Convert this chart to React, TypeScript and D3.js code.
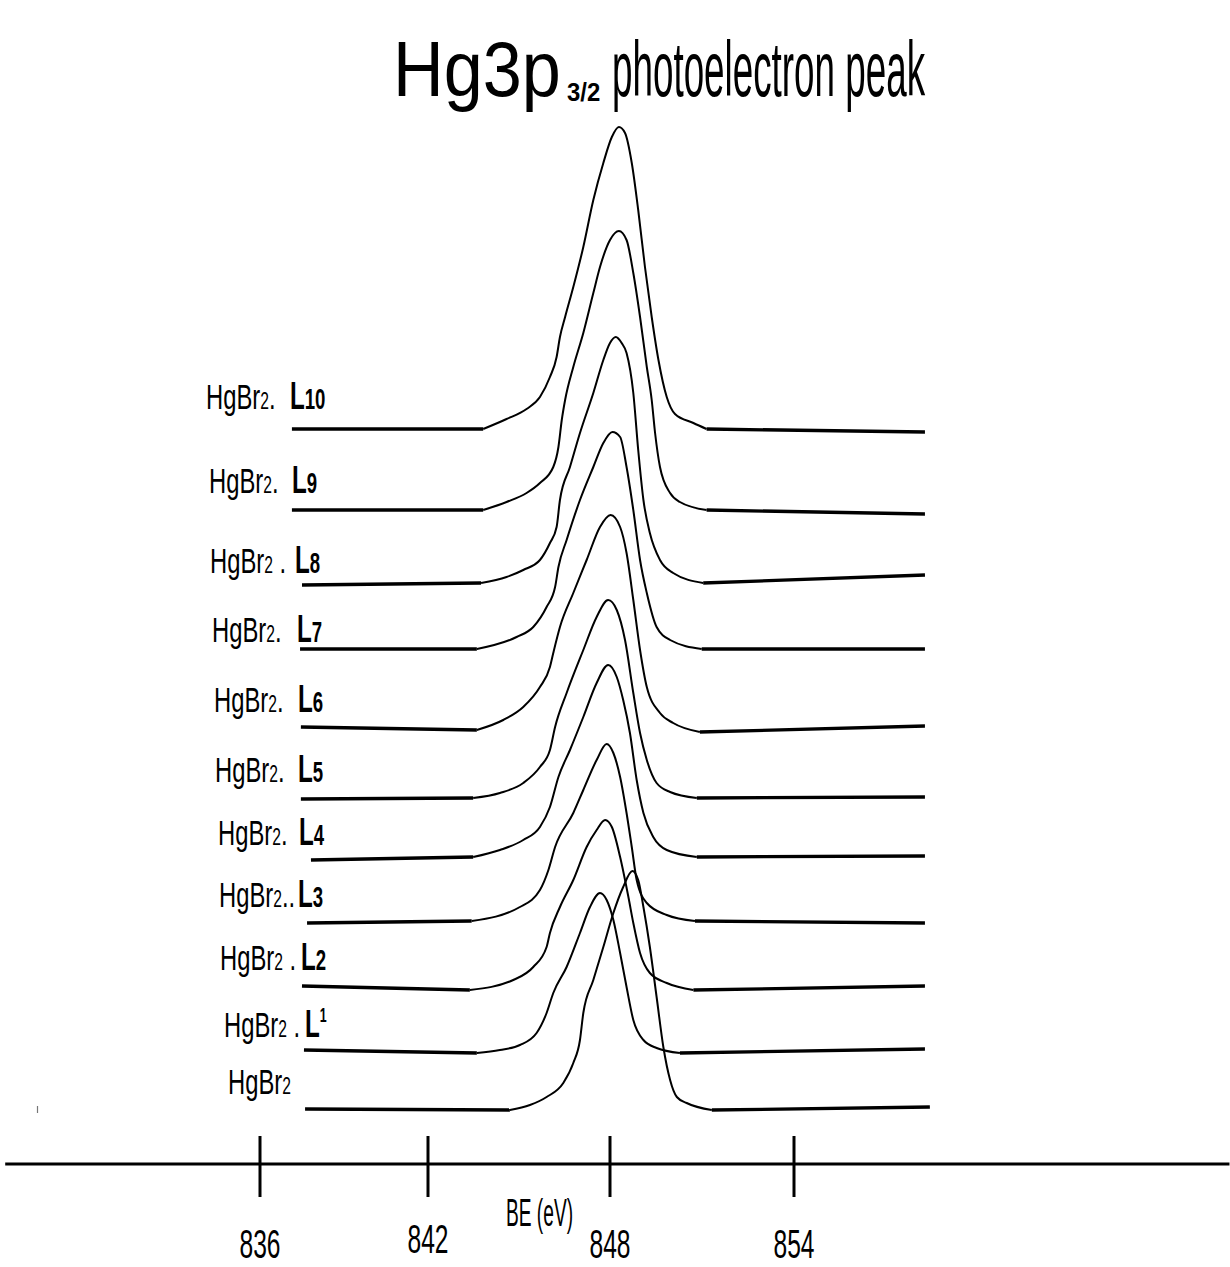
import React from "react";
import * as d3 from "d3";

// Binding energy axis (eV)
const BE_TICKS = [836, 842, 848, 854];
const AXIS_EXTENT = [826.9, 868.2];

// Stacked spectra: [BE (eV), intensity (a.u., offset stack)]
// first two points = left baseline, last two points = right baseline
const HGBR2 = [[837.61,5.5],[844.70,5.4],[845.36,5.9],[845.91,6.7],[846.46,8.1],[846.79,10.1],[847.01,12.4],[847.12,15.1],[847.45,18.4],[847.78,21.7],[848.11,25.1],[848.43,27.7],[848.73,29.3],[848.92,28.4],[849.09,25.7],[849.30,21.7],[849.52,16.7],[849.74,11.7],[849.96,8.4],[850.18,6.7],[850.50,6.1],[851.32,5.4],[858.43,5.7]];
const L1 = [[837.57,11.4],[843.61,11.1],[844.37,11.4],[845.03,11.9],[845.58,13.1],[845.91,15.1],[846.13,17.1],[846.57,19.7],[847.01,23.1],[847.34,25.7],[847.67,27.1],[847.89,26.4],[848.11,24.4],[848.33,21.1],[848.54,17.7],[848.76,14.4],[849.09,12.4],[849.52,11.6],[850.28,11.1],[858.27,11.5]];
const L2 = [[837.50,17.8],[843.38,17.4],[844.81,18.4],[845.47,19.7],[845.91,21.7],[846.02,23.1],[846.35,25.7],[846.79,28.4],[847.23,31.7],[847.56,33.4],[847.84,34.4],[848.06,33.7],[848.33,30.7],[848.60,26.7],[848.76,24.1],[848.98,21.1],[849.30,19.1],[849.85,18.1],[850.72,17.4],[858.27,17.8]];
const L3 = [[837.68,24.1],[843.44,24.3],[845.03,25.7],[845.69,27.4],[845.97,29.4],[846.19,31.7],[846.79,35.1],[847.12,37.4],[847.56,40.4],[847.89,42.0],[848.11,41.1],[848.33,38.7],[848.54,35.1],[848.71,31.7],[848.87,28.4],[849.20,26.1],[849.85,24.9],[850.77,24.3],[858.27,24.1]];
const L4 = [[837.82,30.4],[843.49,30.7],[844.37,31.4],[845.14,32.4],[845.69,33.7],[846.02,35.7],[846.30,38.7],[846.68,41.4],[847.12,44.7],[847.56,48.1],[847.94,49.9],[848.22,48.7],[848.43,46.4],[848.65,43.1],[848.87,38.4],[849.09,35.1],[849.41,32.7],[849.85,31.4],[850.83,30.7],[858.27,30.8]];
const L5 = [[837.46,36.5],[843.49,36.6],[844.37,37.1],[845.14,38.1],[845.69,39.7],[846.02,41.4],[846.19,43.7],[846.57,47.1],[847.12,51.4],[847.56,54.7],[847.94,56.4],[848.22,55.4],[848.49,52.4],[848.76,47.1],[848.98,43.1],[849.20,40.4],[849.52,38.1],[849.96,37.2],[850.83,36.6],[858.27,36.7]];
const L6 = [[837.46,43.7],[843.61,43.4],[844.48,44.4],[845.14,45.7],[845.69,47.7],[846.02,49.7],[846.13,51.1],[846.35,53.7],[846.79,57.1],[847.23,60.4],[847.67,63.7],[848.02,64.9],[848.33,63.7],[848.54,61.1],[848.76,56.4],[848.98,51.4],[849.20,47.7],[849.63,45.1],[850.06,44.1],[850.93,43.2],[858.27,43.8]];
const L7 = [[837.43,51.5],[843.61,51.5],[844.92,52.7],[845.47,53.7],[845.91,55.7],[846.19,57.7],[846.30,59.7],[846.57,62.4],[847.01,66.4],[847.45,69.7],[847.78,72.1],[848.08,73.2],[848.33,72.7],[848.54,69.7],[848.76,65.4],[848.98,60.4],[849.20,57.1],[849.52,53.7],[849.96,52.4],[850.99,51.5],[858.27,51.5]];
const L8 = [[837.50,57.9],[843.75,58.1],[844.59,58.7],[845.14,59.4],[845.69,60.4],[846.02,62.1],[846.24,63.7],[846.35,66.4],[846.68,69.7],[847.01,73.1],[847.45,77.1],[847.78,80.4],[848.00,82.1],[848.19,82.7],[848.38,82.1],[848.54,81.1],[848.76,77.1],[848.92,71.4],[849.09,66.4],[849.30,63.1],[849.63,60.4],[850.06,59.1],[851.04,58.1],[858.27,58.9]];
const L9 = [[837.14,65.4],[843.82,65.4],[844.59,66.2],[845.25,67.1],[845.69,68.1],[846.13,69.7],[846.30,71.7],[846.41,74.4],[846.52,76.4],[846.79,79.7],[847.12,83.1],[847.45,87.1],[847.67,89.7],[848.00,92.4],[848.29,93.3],[848.54,92.4],[848.76,89.1],[848.98,84.7],[849.20,79.7],[849.36,76.4],[849.47,73.1],[849.63,69.7],[849.96,67.1],[850.28,66.2],[851.15,65.4],[858.27,65.0]];
const L10 = [[837.14,73.5],[843.82,73.5],[844.59,74.5],[845.25,75.5],[845.69,76.7],[846.02,78.7],[846.24,80.7],[846.35,82.7],[846.52,84.7],[846.79,87.7],[847.12,91.7],[847.45,96.4],[847.78,100.1],[848.06,102.7],[848.29,103.7],[848.49,103.1],[848.71,100.1],[848.92,95.4],[849.14,89.7],[849.36,84.7],[849.58,80.4],[849.85,76.7],[850.12,75.0],[850.72,74.1],[851.15,73.5],[858.27,73.2]];

const SPECTRA = [HGBR2, L1, L2, L3, L4, L5, L6, L7, L8, L9, L10];

// label texts: separator after "HgBr2" and the ligand number
const LABEL_SEP = ["", " .", " .", "..", ". ", ". ", ". ", ". ", " .", ". ", ". "];
const LABEL_NUM = ["", "1", "2", "3", "4", "5", "6", "7", "8", "9", "10"];

// label anchors (layout, px)
const LABEL_X = [228, 224, 220, 219, 218, 215, 214, 212, 210, 209, 206];
const LABEL_Y = [1094, 1037, 970, 907, 845, 782, 712, 642, 573, 493, 409];
const LMARK_X = [0, 305, 301, 298, 299, 298, 298, 297, 295, 292, 290];

const FONT = "'Liberation Sans', Arial, sans-serif";

export default function App() {
  const W = 1230;
  const H = 1267;
  const x = d3.scaleLinear().domain(BE_TICKS).range([260, 428, 610, 794]);
  const y = d3.scaleLinear().domain([0, 110]).range([1164, 64]);
  const smooth = d3
    .line<number[]>()
    .x((d) => x(d[0]))
    .y((d) => y(d[1]))
    .curve(d3.curveMonotoneX);
  const straight = d3
    .line<number[]>()
    .x((d) => x(d[0]))
    .y((d) => y(d[1]));

  const axisY = y(0);

  return (
    <svg
      width={W}
      height={H}
      style={{ position: "absolute", left: 0, top: 0, background: "#fff" }}
      fontFamily={FONT}
    >
      <rect x={0} y={0} width={W} height={H} fill="#fff" />
      {/* title */}
      <g transform="translate(393,96) scale(0.9,1)">
        <text fontSize={78}>Hg3p</text>
      </g>
      <g transform="translate(567,101) scale(0.92,1)">
        <text fontSize={26} fontWeight="bold">3/2</text>
      </g>
      <g transform="translate(612,96) scale(0.472,1)">
        <text fontSize={78}>photoelectron peak</text>
      </g>

      {/* spectra */}
      {SPECTRA.map((s, i) => {
        const n = s.length;
        return (
          <g key={i} fill="none" stroke="#000" strokeLinecap="butt">
            <path d={straight([s[0], s[1]]) || ""} strokeWidth={3.3} />
            <path d={smooth(s.slice(1, n - 1)) || ""} strokeWidth={2} strokeLinejoin="round" />
            <path d={straight([s[n - 2], s[n - 1]]) || ""} strokeWidth={3.3} />
          </g>
        );
      })}

      {/* labels */}
      {SPECTRA.map((_, i) => (
        <g key={"lab" + i}>
          <g transform={`translate(${LABEL_X[i]},${LABEL_Y[i]}) scale(0.68,1)`}>
            <text fontSize={35}>
              HgBr<tspan fontSize={23}>2</tspan>
              {LABEL_SEP[i]}
            </text>
          </g>
          {LABEL_NUM[i] !== "" && (
            <g transform={`translate(${LMARK_X[i]},${LABEL_Y[i]}) scale(0.62,1)`}>
              <text fontSize={39} fontWeight="bold">
                L
                <tspan fontSize={i === 1 ? 20 : 30} dy={i === 1 ? -15 : 0}>
                  {LABEL_NUM[i]}
                </tspan>
              </text>
            </g>
          )}
        </g>
      ))}

      {/* stray mark */}
      <line x1={37.5} x2={37.5} y1={1106} y2={1113} stroke="#777" strokeWidth={1.2} />

      {/* BE axis */}
      <line x1={x(AXIS_EXTENT[0])} x2={x(AXIS_EXTENT[1])} y1={axisY} y2={axisY} stroke="#000" strokeWidth={3} />
      {BE_TICKS.map((t) => (
        <g key={t}>
          <line x1={x(t)} x2={x(t)} y1={axisY - 28} y2={axisY + 33} stroke="#000" strokeWidth={3} />
          <g transform={`translate(${x(t)},${t === 842 ? 1253 : 1258}) scale(0.6,1)`}>
            <text fontSize={41} textAnchor="middle">
              {d3.format("d")(t)}
            </text>
          </g>
        </g>
      ))}
      <g transform="translate(506,1226) scale(0.504,1)">
        <text fontSize={38}>BE (eV)</text>
      </g>
    </svg>
  );
}
